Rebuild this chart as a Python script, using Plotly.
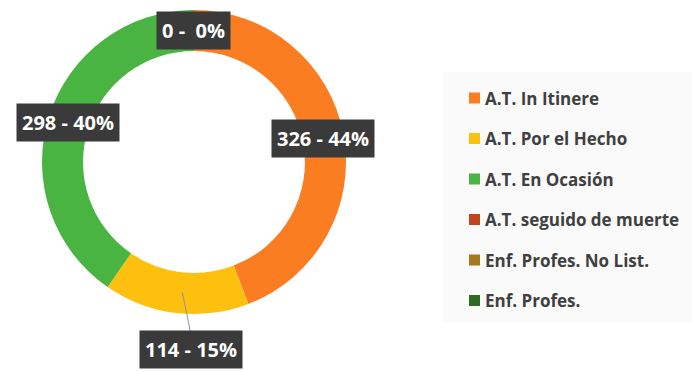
import math
import plotly.graph_objects as go

# Accident / illness categories and case counts
categories = [
    "A.T. In Itinere",
    "A.T. Por el Hecho",
    "A.T. En Ocasión",
    "A.T. seguido de muerte",
    "Enf. Profes. No List.",
    "Enf. Profes.",
]
counts = [326, 114, 298, 0, 0, 0]
colors = ["#FB7D22", "#FDC00F", "#4AB443", "#C1441C", "#A8781E", "#2F6A22"]

W, H = 692, 372

# donut geometry in pixels
cx, cy, R = 194, 162, 152
hole = 0.73
r_label = R * (1 + hole) / 2


def px(x):
    return x / W


def py(y):
    return 1 - y / H


fig = go.Figure(
    go.Pie(
        labels=categories,
        values=counts,
        marker=dict(colors=colors, line=dict(width=0)),
        hole=hole,
        sort=False,
        direction="clockwise",
        rotation=0,
        textinfo="none",
        hoverinfo="label+value+percent",
        showlegend=False,
        domain=dict(x=[px(cx - R), px(cx + R)], y=[py(cy + R), py(cy - R)]),
    )
)

total = sum(counts)
shapes = []
annotations = []

# data labels "value - pct%" placed at each slice's mid angle
label_shift = {1: (13, 57)}  # the small slice label sits outside with a leader line
cum = 0
drawn_zero = False
for i, v in enumerate(counts):
    mid = (cum + v / 2) / total * 2 * math.pi
    cum += v
    if v == 0:
        if drawn_zero:
            continue
        drawn_zero = True
    lx = cx + r_label * math.sin(mid)
    ly = cy - r_label * math.cos(mid)
    tx, ty = lx, ly
    if i in label_shift:
        dx, dy = label_shift[i]
        tx, ty = lx + dx, ly + dy
        shapes.append(dict(
            type="line", xref="paper", yref="paper",
            x0=px(lx + 4), y0=py(ly), x1=px(tx - 1), y1=py(ty - 18),
            line=dict(color="#8a97a8", width=1),
        ))
    pct = round(v / total * 100)
    text = f"{v} -  {pct}%" if v == 0 else f"{v} - {pct}%"
    annotations.append(dict(
        x=px(tx), y=py(ty), xref="paper", yref="paper",
        xanchor="center", yanchor="middle", showarrow=False,
        text=f"<b>{text}</b>",
        font=dict(family="Open Sans, sans-serif", size=20, color="#FFFFFF"),
        bgcolor="#3A3A3A", borderpad=5,
    ))

# legend panel
shapes.append(dict(
    type="rect", xref="paper", yref="paper", layer="below",
    x0=px(443), x1=1, y0=py(322), y1=py(72),
    fillcolor="#FAFAFA", line=dict(width=0),
))
leg_y0, leg_step = 98, 40.5
for i, name in enumerate(categories):
    yy = leg_y0 + i * leg_step
    shapes.append(dict(
        type="rect", xref="paper", yref="paper",
        x0=px(469), x1=px(480), y0=py(yy + 5.5), y1=py(yy - 5.5),
        fillcolor=colors[i], line=dict(width=0),
    ))
    annotations.append(dict(
        x=px(483), y=py(yy), xref="paper", yref="paper",
        xanchor="left", yanchor="middle", showarrow=False,
        text=f"<b>{name}</b>",
        font=dict(family="Open Sans, sans-serif", size=17, color="#404040"),
    ))

fig.update_layout(
    width=W, height=H,
    margin=dict(l=0, r=0, t=0, b=0),
    paper_bgcolor="#FFFFFF",
    plot_bgcolor="#FFFFFF",
    shapes=shapes,
    annotations=annotations,
)

fig.write_html("out.html")
